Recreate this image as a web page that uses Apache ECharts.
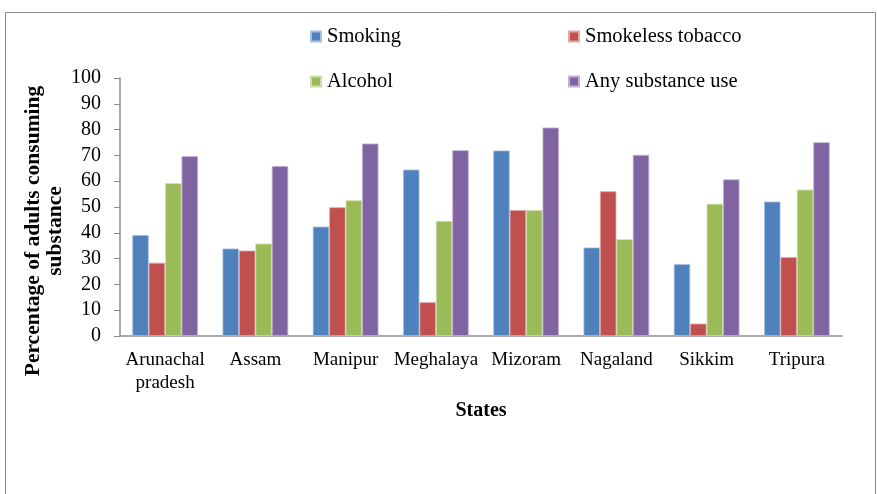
<!DOCTYPE html>
<html>
<head>
<meta charset="utf-8">
<script src="https://cdn.jsdelivr.net/npm/echarts@6/dist/echarts.min.js"></script>
<style>
  html, body { margin: 0; padding: 0; background: #fff; }
  #chart { width: 877px; height: 494px; }
</style>
</head>
<body>
<div id="chart"></div>
<script>
// data
var states = ['Arunachal\npradesh', 'Assam', 'Manipur', 'Meghalaya', 'Mizoram', 'Nagaland', 'Sikkim', 'Tripura'];
var smoking = [39.1, 33.9, 42.4, 64.5, 71.9, 34.3, 27.9, 52.1];
var smokeless = [28.4, 33.1, 49.9, 13.1, 48.8, 56.1, 4.8, 30.6];
var alcohol = [59.2, 35.8, 52.6, 44.6, 48.8, 37.5, 51.2, 56.7];
var anyUse = [69.7, 65.9, 74.6, 72.0, 80.8, 70.2, 60.7, 75.1];

var font = 'Liberation Serif';
var colors = ['#4F81BD', '#C0504D', '#9BBB59', '#8064A2'];
var borders = ['#A7C0DE', '#DFA8A6', '#CDDDAC', '#BFB1D0'];

var myChart = echarts.init(document.getElementById('chart'));

// one legend per entry so the 2x2 layout lines up like the original
function legendAt(name, left, top) {
    return {
        data: [name],
        left: left,
        top: top,
        icon: 'rect',
        itemWidth: 10,
        itemHeight: 10,
        itemGap: 4,
        textStyle: { fontFamily: font, fontSize: 20.5, color: '#000', padding: [0, 0, 0, 1] }
    };
}

function bar(name, data, i) {
    return {
        name: name,
        type: 'bar',
        data: data,
        barWidth: '18.2%',
        barGap: '0%',
        itemStyle: { color: colors[i], borderColor: borders[i], borderWidth: 0.8 }
    };
}

var option = {
    animation: false,
    color: colors,
    graphic: [{
        type: 'rect',
        shape: { x: 5.5, y: 12.5, width: 870, height: 500 },
        style: { fill: 'none', stroke: '#8c8c8c', lineWidth: 1 },
        silent: true
    }, {
        type: 'text',
        rotation: Math.PI / 2,
        x: 44,
        y: 231,
        style: {
            text: 'Percentage of adults consuming\nsubstance',
            font: 'bold 21.5px "Liberation Serif"',
            fill: '#000',
            textAlign: 'center',
            textVerticalAlign: 'middle',
            lineHeight: 22
        },
        silent: true
    }],
    legend: [
        legendAt('Smoking', 305, 21),
        legendAt('Smokeless tobacco', 563, 21),
        legendAt('Alcohol', 305, 66),
        legendAt('Any substance use', 563, 66)
    ],
    grid: { left: 120, right: 35, top: 78, bottom: 158 },
    xAxis: {
        type: 'category',
        data: states,
        name: 'States',
        nameLocation: 'middle',
        nameGap: 65,
        nameTextStyle: { fontFamily: font, fontSize: 20, fontWeight: 'bold', color: '#000' },
        axisLine: { lineStyle: { color: '#8c8c8c', width: 1.5 } },
        axisTick: { show: false },
        axisLabel: { fontFamily: font, fontSize: 19, color: '#000', margin: 13, lineHeight: 23, interval: 0 }
    },
    yAxis: {
        type: 'value',
        min: 0,
        max: 100,
        interval: 10,
        splitLine: { show: false },
        axisLine: { show: true, lineStyle: { color: '#8c8c8c', width: 1.5 } },
        axisTick: { show: true, length: 6, lineStyle: { color: '#8c8c8c' } },
        axisLabel: { fontFamily: font, fontSize: 20, color: '#000', margin: 19 }
    },
    series: [
        bar('Smoking', smoking, 0),
        bar('Smokeless tobacco', smokeless, 1),
        bar('Alcohol', alcohol, 2),
        bar('Any substance use', anyUse, 3)
    ]
};

myChart.setOption(option);
</script>
</body>
</html>
